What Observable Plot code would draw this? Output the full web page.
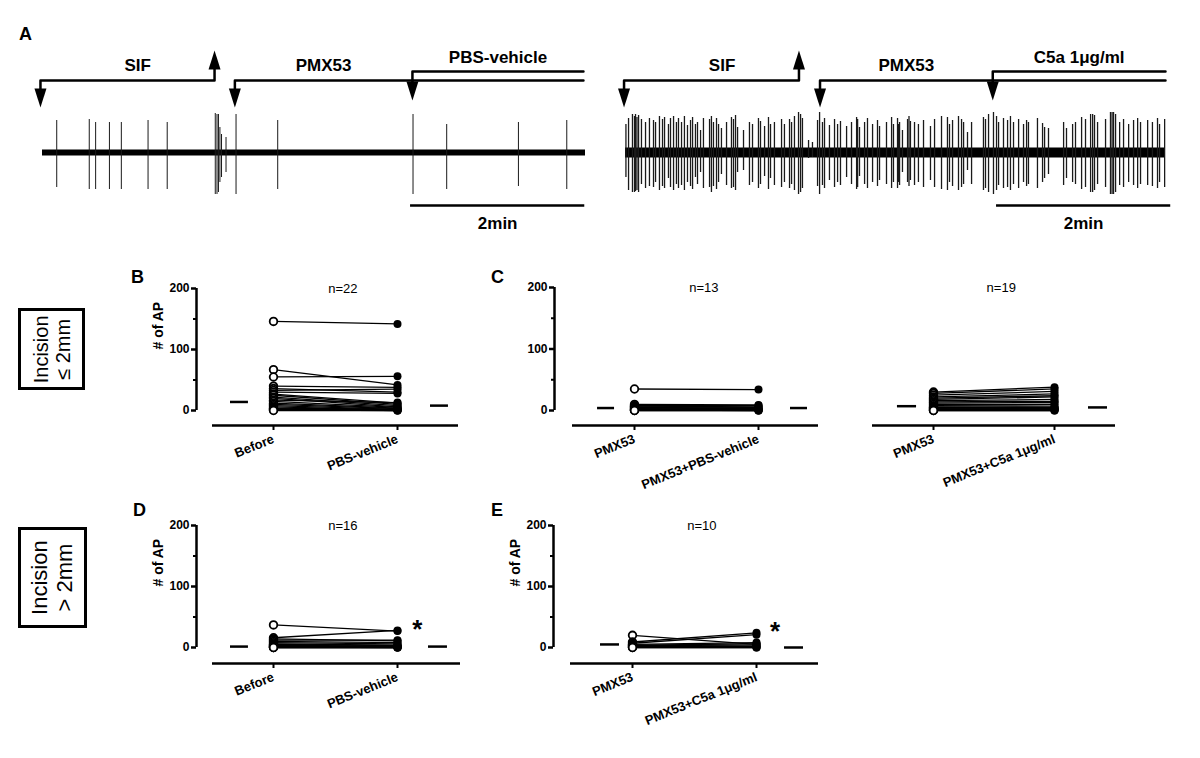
<!DOCTYPE html>
<html><head><meta charset="utf-8">
<script src="https://cdn.jsdelivr.net/npm/d3@7"></script>
<script src="https://cdn.jsdelivr.net/npm/@observablehq/plot@0.6"></script>
<style>
body{margin:0;background:#fff;}
#fig{position:relative;width:1200px;height:758px;background:#fff;font-family:"Liberation Sans",Arial,Helvetica,sans-serif;overflow:hidden;color:#000}
.letter{position:absolute;font-weight:bold;font-size:18px;line-height:18px}
.box{position:absolute;border:3px solid #000;box-sizing:border-box;display:flex;align-items:center;justify-content:center;overflow:visible}
.box span{flex-shrink:0;transform:rotate(-90deg);white-space:nowrap;text-align:center;line-height:1.12}
</style></head><body><div id="fig"></div>
<script>
// ---------- Panel A : extracellular recordings (time in s) ----------
const leftSpikeT    = [9.8, 32.2, 36.6, 46.1, 54.3, 72.7, 85.9, 119.0, 120.2, 121.2, 122.2, 123.3, 126.4, 133.3, 162.0, 255.2, 278.4, 327.8, 361.1];
const leftSpikeUp   = [32, 33, 30, 30, 30, 32, 30, 39, 38, 38, 25, 18, 15, 38, 32, 38, 28, 30, 32];
const leftSpikeDown = [35, 37, 37, 37, 37, 37, 37, 42, 42, 40, 30, 25, 20, 42, 37, 42, 37, 34, 37];

const rightSpikeT = [0.3, 2.1, 4.8, 6.2, 6.9, 7.9, 9.0, 11.0, 13.8, 16.5,
  19.3, 20.7, 23.4, 25.5, 26.9, 29.6, 31.0, 33.1, 35.1, 36.5,
  38.6, 40.6, 42.7, 44.8, 46.2, 48.2, 49.6, 51.7, 53.7, 57.9,
  59.2, 60.6, 62.7, 64.1, 66.1, 69.6, 73.0, 74.4, 75.8, 77.2,
  81.3, 85.4, 87.5, 91.6, 93.0, 95.8, 98.5, 99.9, 102.6, 107.5,
  109.5, 113.0, 114.4, 116.4, 119.2, 120.6, 121.9, 126.1, 128.8, 132.3,
  133.7, 135.7, 137.1, 140.5, 144.0, 146.1, 148.1, 152.3, 155.7, 159.2,
  159.9, 161.2, 164.7, 166.7, 170.2, 173.6, 175.0, 179.8, 183.3, 184.6,
  187.4, 188.1, 188.8, 190.8, 194.3, 195.3, 196.3, 199.1, 201.8, 205.3,
  210.1, 212.9, 217.7, 221.8, 223.2, 225.3, 229.4, 231.5, 232.9, 235.6,
  238.4, 246.6, 248.0, 250.1, 253.5, 255.6, 257.0, 260.4, 263.2, 265.2,
  267.3, 270.8, 274.2, 276.3, 277.6, 283.8, 287.3, 288.7, 291.4, 301.8,
  303.8, 308.0, 310.0, 314.2, 316.9, 320.4, 321.8, 323.1, 325.2, 330.7,
  334.1, 335.2, 336.2, 337.6, 340.4, 343.1, 346.6, 350.0, 352.8, 354.8,
  359.7, 363.0, 366.5, 367.9, 371.4];
const rightSpikeUp = [28, 34, 38, 36, 38, 35, 37, 33, 30, 34,
  32, 30, 36, 33, 35, 28, 34, 36, 30, 34,
  30, 36, 27, 32, 35, 28, 30, 22, 34, 33,
  36, 30, 34, 28, 24, 30, 35, 33, 37, 25,
  22, 30, 28, 34, 31, 26, 35, 28, 30, 33,
  28, 33, 30, 36, 40, 38, 34, 12, 10, 32,
  40, 30, 34, 27, 33, 28, 31, 26, 30, 35,
  33, 25, 30, 34, 28, 32, 26, 30, 35, 28,
  34, 28, 30, 22, 33, 36, 31, 30, 28, 32,
  26, 33, 36, 35, 28, 32, 36, 33, 30, 20,
  30, 35, 33, 38, 40, 36, 30, 34, 32, 36,
  30, 33, 28, 32, 30, 34, 29, 25, 24, 30,
  24, 28, 30, 35, 33, 38, 38, 37, 30, 33,
  40, 40, 40, 38, 30, 33, 28, 32, 34, 30,
  32, 30, 34, 28, 33];
const rightSpikeDown = [25, 38, 40, 40, 39, 38, 40, 32, 36, 34,
  35, 30, 38, 34, 36, 26, 35, 38, 32, 36,
  33, 38, 30, 34, 37, 25, 32, 20, 36, 35,
  40, 34, 37, 30, 22, 33, 36, 35, 38, 20,
  18, 33, 30, 36, 32, 24, 37, 26, 33, 35,
  30, 36, 32, 38, 42, 40, 36, 6, 5, 34,
  42, 33, 36, 28, 35, 30, 33, 25, 32, 37,
  35, 24, 32, 36, 30, 34, 28, 32, 36, 30,
  36, 30, 33, 20, 30, 34, 28, 33, 30, 35,
  28, 35, 37, 38, 30, 34, 38, 35, 32, 18,
  32, 38, 36, 40, 42, 38, 33, 36, 35, 38,
  32, 36, 30, 34, 32, 36, 30, 26, 22, 33,
  26, 30, 32, 37, 35, 40, 40, 38, 32, 35,
  42, 42, 42, 40, 33, 35, 30, 33, 36, 32,
  33, 34, 36, 30, 35];

// drug application periods (s)
const leftEvents = [
  {label: "SIF", start: -1.4, end: 118.5, up: true, level: 1},
  {label: "PMX53", start: 132.5, end: 372.6, up: false, level: 1},
  {label: "PBS-vehicle", start: 254.8, end: 372.6, up: false, level: 2}
];
const rightEvents = [
  {label: "SIF", start: -1.0, end: 119.5, up: true, level: 1},
  {label: "PMX53", start: 134.0, end: 372.0, up: false, level: 1},
  {label: "C5a 1μg/ml", start: 253.0, end: 372.0, up: false, level: 2}
];
const scaleBarLabel = "2min";
const scaleBarSeconds = 120;

// ---------- Panels B–E : # of AP, paired ----------
const bNames = ["Before", "PBS-vehicle"];
const bBefore = [146, 67, 55, 40, 36, 33, 30, 27, 25, 22, 20, 17, 15, 12, 10, 8, 6, 4, 3, 2, 1, 0];
const bAfter  = [142, 42, 56, 38, 30, 35, 28, 12, 10, 8, 6, 13, 5, 4, 3, 2, 1, 2, 0, 1, 0, 0];
const bBars = [14, 8];
const bN = "n=22";

const c1Names = ["PMX53", "PMX53+PBS-vehicle"];
const c1Before = [35, 10, 8, 7, 6, 5, 4, 3, 2, 1, 1, 0, 0];
const c1After  = [34, 9, 8, 6, 5, 4, 3, 2, 1, 1, 0, 0, 0];
const c1Bars = [4, 4];
const c1N = "n=13";

const c2Names = ["PMX53", "PMX53+C5a 1μg/ml"];
const c2Before = [30, 28, 25, 22, 20, 18, 16, 14, 12, 10, 8, 6, 5, 4, 3, 2, 1, 0, 0];
const c2After  = [38, 35, 31, 27, 24, 22, 18, 15, 13, 10, 7, 5, 4, 3, 2, 2, 1, 0, 0];
const c2Bars = [7, 5];
const c2N = "n=19";

const dNames = ["Before", "PBS-vehicle"];
const dBefore = [37, 16, 14, 12, 10, 8, 6, 5, 4, 3, 2, 2, 1, 0, 0, 0];
const dAfter  = [27, 28, 11, 12, 8, 6, 4, 3, 2, 2, 1, 1, 0, 0, 0, 0];
const dBars = [1.5, 1.5];
const dN = "n=16";

const eNames = ["PMX53", "PMX53+C5a 1μg/ml"];
const eBefore = [20, 9, 7, 5, 4, 3, 2, 1, 0, 0];
const eAfter  = [5, 24, 21, 8, 6, 4, 2, 1, 0, 0];
const eBars = [5, 0];
const eN = "n=10";

// ---------- drawing ----------
const FONT = '"Liberation Sans", Arial, Helvetica, sans-serif';
const fig = document.getElementById("fig");
const baseStyle = {fontFamily: FONT, fontSize: "12px", color: "#000", background: "transparent", overflow: "visible"};

function place(node, left, top) {
  node.style.position = "absolute";
  node.style.left = left + "px";
  node.style.top = top + "px";
  fig.appendChild(node);
}
function html(tag, cls, text, left, top, extra) {
  const n = document.createElement(tag);
  n.className = cls;
  if (text != null) n.textContent = text;
  n.style.left = left + "px"; n.style.top = top + "px";
  Object.assign(n.style, extra || {});
  fig.appendChild(n);
  return n;
}

const downHead = {draw(ctx) { ctx.moveTo(-6, -19); ctx.lineTo(6, -19); ctx.lineTo(0, 0); ctx.closePath(); }};
const upHead = {draw(ctx) { ctx.moveTo(-6, 19); ctx.lineTo(6, 19); ctx.lineTo(0, 0); ctx.closePath(); }};

function tracePanel(tr) {
  const spikes = tr.t.map((t, i) => ({t, up: tr.up[i], down: tr.down[i]}));
  const LINE = {1: 72, 2: 81}, TIP = {1: 45, 2: 52}, LAB = {1: 86.5, 2: 95}, UPTIP = 102;
  const pts = [], downs = [], ups = [], labels = [];
  tr.events.forEach((e, i) => {
    pts.push({id: i, x: e.start, y: TIP[e.level] + 10});
    pts.push({id: i, x: e.start, y: LINE[e.level]});
    pts.push({id: i, x: e.end, y: LINE[e.level]});
    if (e.up) pts.push({id: i, x: e.end, y: UPTIP - 10});
    downs.push({x: e.start, y: TIP[e.level]});
    if (e.up) ups.push({x: e.end, y: UPTIP});
    const next = tr.events[i + 1];
    labels.push({label: e.label, x: (e.start + (next ? next.start : e.end)) / 2, y: LAB[e.level]});
  });
  const chart = Plot.plot({
    width: tr.W, height: 220, marginLeft: tr.mL, marginRight: tr.mR, marginTop: 20, marginBottom: 10,
    x: {domain: [0, tr.dur], axis: null},
    y: {domain: [-78, 112], axis: null},
    style: baseStyle,
    marks: [
      Plot.ruleY([0], {x1: 0, x2: tr.dur, stroke: "#000", strokeWidth: tr.noise}),
      Plot.ruleX(spikes, {x: "t", y1: d => -d.down, y2: "up", stroke: "#1a1a1a", strokeWidth: tr.spikeW}),
      Plot.line(pts, {x: "x", y: "y", z: "id", stroke: "#000", strokeWidth: 2.5}),
      Plot.dot(downs, {x: "x", y: "y", symbol: downHead, fill: "#000"}),
      Plot.dot(ups, {x: "x", y: "y", symbol: upHead, fill: "#000"}),
      Plot.ruleY([-53], {x1: tr.bar, x2: tr.bar + scaleBarSeconds, stroke: "#000", strokeWidth: 2.5}),
      Plot.text([scaleBarLabel], {x: tr.bar + scaleBarSeconds / 2, y: -71, fontWeight: "bold", fontSize: 17}),
      Plot.text(labels, {x: "x", y: "y", text: "label", fontWeight: "bold", fontSize: 17})
    ]
  });
  place(chart, tr.L, 20);
}

tracePanel({L: 0, W: 600, mL: 42, mR: 15, dur: 374, noise: 6, spikeW: 1, bar: 253.5,
  t: leftSpikeT, up: leftSpikeUp, down: leftSpikeDown, events: leftEvents});
tracePanel({L: 600, W: 600, mL: 25, mR: 35, dur: 372, noise: 10, spikeW: 1.3, bar: 255.6,
  t: rightSpikeT, up: rightSpikeUp, down: rightSpikeDown, events: rightEvents});

function scatterPanel(g, d) {
  const unit = g.tick1 - g.tick0;
  const frameL = g.yAxis ? g.axisX : g.lineX0;
  const L = frameL - 70, R = g.lineX1 + 12, T = g.y200 - 20, B = g.baseY + 80;
  const pxPer = (g.y0 - g.y200) / 200;
  const ymin = -(g.baseY - g.y0) / pxPer;
  const xmin = (frameL - g.tick0) / unit, xmax = (g.lineX1 - g.tick0) / unit;
  const pairs = d.before.map((b, i) => ({before: b, after: d.after[i]}));
  const bars = [{x1: g.bar0[0], x2: g.bar0[1], y: d.bars[0]}, {x1: g.bar1[0], x2: g.bar1[1], y: d.bars[1]}];
  const marks = [];
  if (g.yAxis) {
    marks.push(
      Plot.ruleX([xmin], {y1: 0, y2: 200, stroke: "#000", strokeWidth: 2.5}),
      Plot.axisY({ticks: [0, 100, 200], tickSize: 5, tickPadding: 2, stroke: "#000", strokeWidth: 2.5, fontWeight: "bold", fontSize: 12, label: null}),
      Plot.axisY({ticks: [50, 150], tickSize: 3, tickFormat: () => "", stroke: "#000", strokeWidth: 2, label: null})
    );
  }
  if (g.yLabel) marks.push(Plot.text(["# of AP"], {frameAnchor: "left", dx: -38, y: 100, rotate: -90, fontWeight: "bold", fontSize: 14}));
  marks.push(
    Plot.ruleY([ymin], {x1: (g.lineX0 - g.tick0) / unit, x2: xmax, stroke: "#000", strokeWidth: 2.5}),
    Plot.axisX({ticks: [0, 1], tickFormat: i => d.names[i], tickRotate: -22, tickSize: 5, tickPadding: 8, stroke: "#000", strokeWidth: 2, fontWeight: "bold", fontSize: 13, label: null}),
    Plot.link(pairs, {x1: 0, x2: 1, y1: "before", y2: "after", stroke: "#000", strokeWidth: 1.3}),
    Plot.dot(pairs, {x: 0, y: "before", r: 3.8, fill: "#fff", stroke: "#000", strokeWidth: 1.8}),
    Plot.dot(pairs, {x: 1, y: "after", r: 4, fill: "#000"}),
    Plot.ruleY(bars, {x1: "x1", x2: "x2", y: "y", stroke: "#000", strokeWidth: 2.5}),
    Plot.text([d.n], {x: 0.56, y: 200, fontSize: 13})
  );
  if (g.star) marks.push(Plot.text(["*"], {x: g.star[0], y: g.star[1], fontSize: 26, fontWeight: "bold"}));
  const chart = Plot.plot({
    width: R - L, height: B - T,
    marginLeft: frameL - L, marginRight: R - g.lineX1, marginTop: g.y200 - T, marginBottom: B - g.baseY,
    x: {type: "linear", domain: [xmin, xmax]},
    y: {domain: [ymin, 200], axis: g.yAxis ? undefined : null},
    style: baseStyle,
    marks
  });
  place(chart, L, T);
}

scatterPanel({axisX: 196, tick0: 273, tick1: 397, lineX0: 212, lineX1: 458, y200: 288, y0: 410, baseY: 425, yAxis: true, yLabel: true, bar0: [-0.347, -0.202], bar1: [1.266, 1.411]},
  {names: bNames, before: bBefore, after: bAfter, bars: bBars, n: bN});
scatterPanel({axisX: 554, tick0: 634, tick1: 758, lineX0: 572, lineX1: 818, y200: 287, y0: 410, baseY: 425, yAxis: true, yLabel: false, bar0: [-0.298, -0.161], bar1: [1.258, 1.395]},
  {names: c1Names, before: c1Before, after: c1After, bars: c1Bars, n: c1N});
scatterPanel({tick0: 933, tick1: 1054, lineX0: 872, lineX1: 1115, y200: 287, y0: 410, baseY: 425, yAxis: false, yLabel: false, bar0: [-0.298, -0.14], bar1: [1.281, 1.438]},
  {names: c2Names, before: c2Before, after: c2After, bars: c2Bars, n: c2N});
scatterPanel({axisX: 196, tick0: 273, tick1: 397, lineX0: 212, lineX1: 460, y200: 525, y0: 647, baseY: 663, yAxis: true, yLabel: true, bar0: [-0.347, -0.202], bar1: [1.25, 1.403], star: [1.16, 30]},
  {names: dNames, before: dBefore, after: dAfter, bars: dBars, n: dN});
scatterPanel({axisX: 553, tick0: 632, tick1: 756, lineX0: 570, lineX1: 818, y200: 525, y0: 647, baseY: 663, yAxis: true, yLabel: true, bar0: [-0.258, -0.105], bar1: [1.226, 1.379], star: [1.15, 26]},
  {names: eNames, before: eBefore, after: eAfter, bars: eBars, n: eN});

// panel letters
html("div", "letter", "A", 19, 25);
html("div", "letter", "B", 131, 268);
html("div", "letter", "C", 491, 268);
html("div", "letter", "D", 133, 501);
html("div", "letter", "E", 491, 501);

// incision boxes
const b1 = html("div", "box", null, 18, 308, {width: "67px", height: "82px", fontSize: "20px"});
b1.innerHTML = "<span>Incision<br>≤ 2mm</span>";
const b2 = html("div", "box", null, 18, 527, {width: "69px", height: "101px", fontSize: "22px"});
b2.innerHTML = "<span>Incision<br>&gt; 2mm</span>";
</script></body></html>
